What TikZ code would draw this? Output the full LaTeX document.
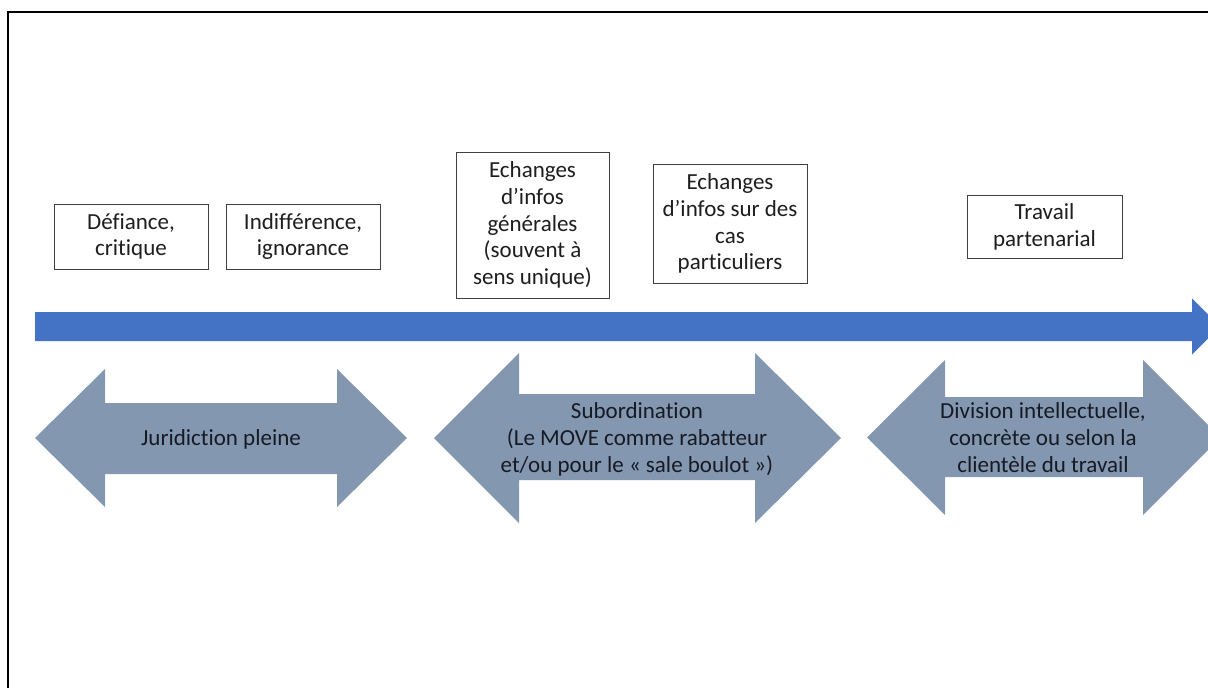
\documentclass[tikz,border=0pt]{standalone}
\usepackage{fontspec}
\setmainfont{Carlito}[Ligatures=NoCommon]
\definecolor{blueA}{HTML}{4472C4}
\definecolor{grayblue}{HTML}{8497B0}
\definecolor{boxline}{HTML}{404040}
\definecolor{txt}{HTML}{1E1E1E}
\definecolor{arrtxt}{HTML}{161A24}
\begin{document}
\begin{tikzpicture}[x=1pt,y=-1pt,
  stagebox/.style={draw=boxline,line width=0.9pt,fill=white,align=center,text=txt,
    font=\fontsize{23}{26.8}\selectfont,inner sep=0pt},
  arrowtext/.style={align=center,text=arrtxt,font=\fontsize{23}{27}\selectfont,inner sep=0pt},
  dblfill/.style={fill=grayblue}]
\useasboundingbox (0,0) rectangle (1208,688);
\clip (0,0) rectangle (1208,688);
% frame
\draw[line width=2pt] (8.3,700) -- (8.3,12.4) -- (1220,12.4);
% blue time arrow
\fill[blueA] (35,312) -- (1192,312) -- (1192,298.5) -- (1220,326.5) -- (1192,354.5) -- (1192,341) -- (35,341) -- cycle;
% double arrows
\fill[dblfill] (35,438) -- (105,369) -- (105,403) -- (337,403) -- (337,369) -- (407,438)
  -- (337,507) -- (337,474) -- (105,474) -- (105,507) -- cycle;
\fill[dblfill] (434,438) -- (519,353) -- (519,394) -- (755,394) -- (755,353) -- (841,438)
  -- (755,523) -- (755,480) -- (519,480) -- (519,523) -- cycle;
\fill[dblfill] (867,437.5) -- (945,360) -- (945,397) -- (1143,397) -- (1143,360) -- (1220.5,437.5)
  -- (1143,515) -- (1143,477) -- (945,477) -- (945,515) -- cycle;
% top boxes
\node[stagebox,minimum width=154pt,minimum height=65pt] (b1) at (131,236.5) {Défiance,\\critique};
\node[stagebox,minimum width=154pt,minimum height=65pt] (b2) at (303,236.5) {Indifférence,\\ignorance};
\node[stagebox,minimum width=153pt,minimum height=146pt] (b3) at (532.5,225) {Echanges\\d’infos\\générales\\(souvent à\\sens unique)};
\node[stagebox,minimum width=154pt,minimum height=119pt] (b4) at (730,223.5) {Echanges\\d’infos sur des\\cas\\particuliers};
\node[stagebox,minimum width=155pt,minimum height=63pt] (b5) at (1044.5,226.5) {Travail\\partenarial};
% arrow labels
\node[arrowtext] (a1) at (221,439) {Juridiction pleine};
\node[arrowtext] (a2) at (637,439) {Subordination\\(Le MOVE comme rabatteur\\et/ou pour le « sale boulot »)};
\node[arrowtext] (a3) at (1043,438) {Division intellectuelle,\\concrète ou selon la\\clientèle du travail};
\end{tikzpicture}
\end{document}
